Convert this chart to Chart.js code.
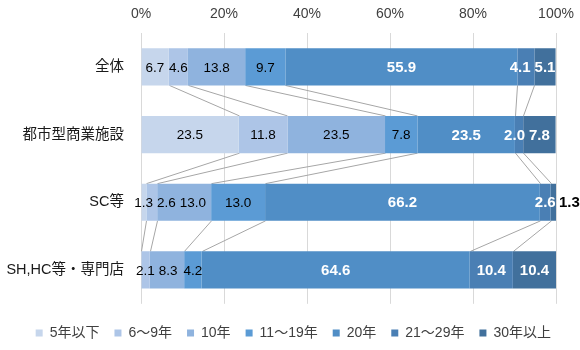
<!DOCTYPE html>
<html>
<head>
<meta charset="utf-8">
<script src="https://cdn.jsdelivr.net/npm/chart.js@4/dist/chart.umd.min.js"></script>
<style>
  html, body { margin: 0; padding: 0; background: #fff; }
  #wrap { width: 580px; height: 350px; position: relative; }
</style>
</head>
<body>
<div id="wrap"><canvas id="chart"></canvas></div>
<script>
// categories (top to bottom)
const categories = ["全体", "都市型商業施設", "SC等", "SH,HC等・専門店"];

// series names (legend order)
const seriesNames = ["5年以下", "6～9年", "10年", "11～19年", "20年", "21～29年", "30年以上"];

// values per series, one per category (%)
const s5orLess = [6.7, 23.5, 1.3, 0];
const s6to9 = [4.6, 11.8, 2.6, 2.1];
const s10 = [13.8, 23.5, 13.0, 8.3];
const s11to19 = [9.7, 7.8, 13.0, 4.2];
const s20 = [55.9, 23.5, 66.2, 64.6];
const s21to29 = [4.1, 2.0, 2.6, 10.4];
const s30orMore = [5.1, 7.8, 1.3, 10.4];

const xTicks = [0, 20, 40, 60, 80, 100];

const seriesValues = [s5orLess, s6to9, s10, s11to19, s20, s21to29, s30orMore];
const seriesColors = ["#c6d6ec", "#adc5e7", "#8fb3de", "#5b9bd5", "#508ec6", "#4a7fb4", "#41709c"];
const whiteLabel = [false, false, false, false, true, true, true];

const FONT = "'Liberation Sans', Arial, 'Noto Sans CJK JP', sans-serif";

function labelFont(bold) {
    return bold ? "bold 15px " + FONT : "13.5px " + FONT;
}

// series lines between bars + data labels
const seriesLinesAndLabels = {
    id: "seriesLinesAndLabels",
    beforeDatasetsDraw(chart) {
        const ctx = chart.ctx;
        const x = chart.scales.x;
        ctx.save();
        ctx.strokeStyle = "#a6a6a6";
        ctx.lineWidth = 1;
        for (let i = 0; i < categories.length - 1; i++) {
            let cumA = 0, cumB = 0;
            for (let d = 0; d < seriesValues.length - 1; d++) {
                cumA += seriesValues[d][i];
                cumB += seriesValues[d][i + 1];
                const barA = chart.getDatasetMeta(d).data[i];
                const barB = chart.getDatasetMeta(d).data[i + 1];
                const yA = barA.y + barA.height / 2;
                const yB = barB.y - barB.height / 2;
                ctx.beginPath();
                ctx.moveTo(Math.round(x.getPixelForValue(cumA)) + 0.5, yA);
                ctx.lineTo(Math.round(x.getPixelForValue(cumB)) + 0.5, yB);
                ctx.stroke();
            }
        }
        ctx.restore();
    },
    afterDatasetsDraw(chart) {
        const ctx = chart.ctx;
        const x = chart.scales.x;
        ctx.save();
        ctx.textBaseline = "middle";
        ctx.textAlign = "center";
        for (let i = 0; i < categories.length; i++) {
            const labels = [];
            let cum = 0;
            seriesValues.forEach((vals, d) => {
                const v = vals[i];
                const start = cum;
                cum += v;
                if (!v) return;
                const bar = chart.getDatasetMeta(d).data[i];
                const last = d === seriesValues.length - 1;
                const outside = last && v < 2;
                const text = v.toFixed(1);
                const bold = whiteLabel[d] || outside;
                ctx.font = labelFont(bold);
                const w = ctx.measureText(text).width;
                let cx = x.getPixelForValue((start + cum) / 2);
                if (outside) cx = x.right + 3 + w / 2;
                labels.push({ text, cx, w, y: bar.y, bold,
                    color: whiteLabel[d] && !outside ? "#ffffff" : "#000000", outside });
            });
            // avoid overlaps: push right on the left half, left on the right half
            const gap = 4;
            const mid = (x.left + x.right) / 2;
            const left = labels.filter(l => l.cx < mid && !l.outside);
            const right = labels.filter(l => l.cx >= mid && !l.outside);
            for (let k = 1; k < left.length; k++) {
                const prevEnd = left[k - 1].cx + left[k - 1].w / 2 + gap;
                if (left[k].cx - left[k].w / 2 < prevEnd) left[k].cx = prevEnd + left[k].w / 2;
            }
            for (let k = right.length - 2; k >= 0; k--) {
                const nextStart = right[k + 1].cx - right[k + 1].w / 2 - gap;
                if (right[k].cx + right[k].w / 2 > nextStart) right[k].cx = nextStart - right[k].w / 2;
            }
            labels.forEach(l => {
                ctx.font = labelFont(l.bold);
                ctx.fillStyle = l.color;
                ctx.fillText(l.text, l.cx, l.y + 1);
            });
        }
        ctx.restore();
    }
};

new Chart(document.getElementById("chart"), {
    type: "bar",
    data: {
        labels: categories,
        datasets: seriesNames.map((name, d) => ({
            label: name,
            data: seriesValues[d],
            backgroundColor: seriesColors[d],
            borderWidth: 0,
            barPercentage: 0.55,
            categoryPercentage: 1.0,
        })),
    },
    options: {
        indexAxis: "y",
        responsive: true,
        maintainAspectRatio: false,
        animation: false,
        layout: { padding: { left: 0, right: 14, top: 2, bottom: 0 } },
        plugins: {
            tooltip: { enabled: false },
            legend: {
                position: "bottom",
                align: "end",
                title: { display: true, text: " ", font: { size: 1 }, padding: { top: 0, bottom: 6 } },
                labels: {
                    boxWidth: 7,
                    boxHeight: 7,
                    padding: 15,
                    color: "#404040",
                    font: { family: FONT, size: 14 },
                },
            },
        },
        scales: {
            x: {
                stacked: true,
                position: "top",
                min: 0,
                max: 100,
                afterBuildTicks: (s) => { s.ticks = xTicks.map(v => ({ value: v })); },
                afterFit: (s) => { s.height = 31; s.paddingRight = 24; },
                ticks: {
                    color: "#404040",
                    font: { family: FONT, size: 14 },
                    padding: 10,
                    callback: (v) => v + "%",
                },
                grid: { color: "#d9d9d9", drawTicks: false },
                border: { display: false },
            },
            y: {
                stacked: true,
                afterFit: (s) => { s.width = 141; },
                ticks: {
                    color: "#1a1a1a",
                    font: { family: FONT, size: 14.5 },
                    padding: 9,
                },
                grid: { display: false },
                border: { display: false },
            },
        },
    },
    plugins: [seriesLinesAndLabels],
});
</script>
</body>
</html>
